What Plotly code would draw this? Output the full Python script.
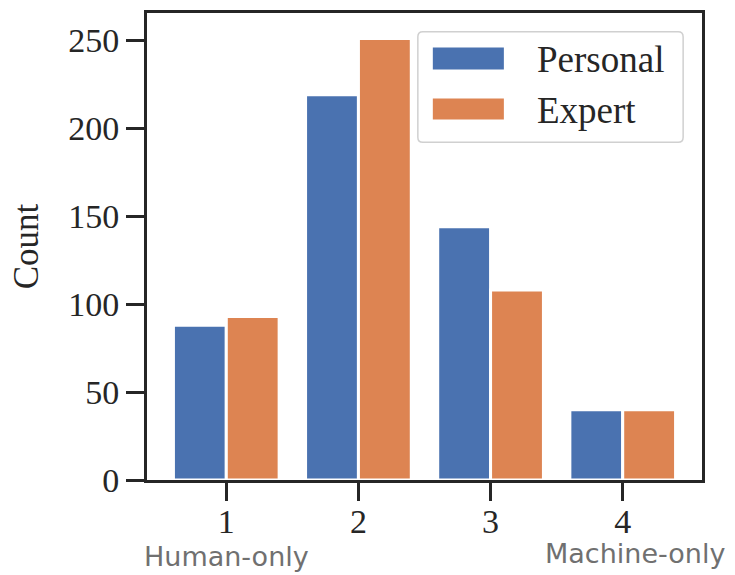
import plotly.graph_objects as go

categories = [1, 2, 3, 4]
tick_labels = ["1", "2", "3", "4"]
series_names = ["Personal", "Expert"]
personal = [88, 219, 144, 40]
expert = [93, 251, 108, 40]
colors = ["#4A72B0", "#DD8452"]
y_ticks = [0, 50, 100, 150, 200, 250]
end_labels = ["Human-only", "Machine-only"]

SERIF = "Liberation Serif, Times New Roman, serif"
SANS = "DejaVu Sans, sans-serif"
INK = "#262626"
GREY = "#707070"

fig = go.Figure()
for name, vals, col in zip(series_names, [personal, expert], colors):
    fig.add_trace(go.Bar(
        x=categories, y=vals, name=name,
        marker=dict(color=col, line=dict(color="white", width=3)),
        showlegend=False,
    ))

# custom legend (wide swatches, rounded frame)
def rrect(x0, y0, x1, y1, rx, ry):
    return (f"M{x0+rx},{y0} L{x1-rx},{y0} Q{x1},{y0} {x1},{y0+ry} "
            f"L{x1},{y1-ry} Q{x1},{y1} {x1-rx},{y1} L{x0+rx},{y1} "
            f"Q{x0},{y1} {x0},{y1-ry} L{x0},{y0+ry} Q{x0},{y0} {x0+rx},{y0} Z")

shapes = [dict(type="path", xref="paper", yref="paper",
               path=rrect(0.488, 0.723, 0.966, 0.960, 0.009, 0.011),
               line=dict(color="#D0D0D0", width=1.5), fillcolor="white")]
annotations = []
sw_y = [(0.879, 0.926), (0.772, 0.817)]
txt_y = [0.900, 0.791]
for name, col, (ya, yb), ty in zip(series_names, colors, sw_y, txt_y):
    shapes.append(dict(type="rect", xref="paper", yref="paper",
                       x0=0.515, x1=0.643, y0=ya, y1=yb,
                       fillcolor=col, line=dict(width=0)))
    annotations.append(dict(xref="paper", yref="paper", x=0.699, y=ty,
                            xanchor="left", yanchor="middle", text=name,
                            showarrow=False,
                            font=dict(family=SERIF, size=37, color=INK)))

annotations.append(dict(xref="x", yref="paper", x=categories[0], y=-0.2,
                        xanchor="center", yanchor="bottom", text=end_labels[0],
                        showarrow=False, borderpad=0,
                        font=dict(family=SANS, size=27, color=GREY)))
annotations.append(dict(xref="x", yref="paper", x=categories[-1] + 0.09, y=-0.192,
                        xanchor="center", yanchor="bottom", text=end_labels[1],
                        showarrow=False, borderpad=0,
                        font=dict(family=SANS, size=27, color=GREY)))

fig.update_layout(
    width=735, height=575,
    margin=dict(l=147, r=33, t=10, b=95),
    paper_bgcolor="white", plot_bgcolor="white",
    barmode="group", bargap=0.2, bargroupgap=0,
    shapes=shapes, annotations=annotations,
    font=dict(family=SERIF, size=34, color=INK),
)
fig.update_xaxes(
    range=[0.4, 4.6], tickvals=categories, ticktext=tick_labels,
    showgrid=False, zeroline=False,
    showline=True, mirror=True, linecolor=INK, linewidth=3,
    ticks="outside", ticklen=18, tickwidth=3, tickcolor=INK,
    tickfont=dict(family=SERIF, size=34, color=INK),
    ticklabelstandoff=-9,
)
fig.update_yaxes(
    range=[0, 265.5], tickvals=y_ticks,
    showgrid=False, zeroline=False,
    showline=True, mirror=True, linecolor=INK, linewidth=3,
    ticks="outside", ticklen=18, tickwidth=3, tickcolor=INK,
    tickfont=dict(family=SERIF, size=34, color=INK),
    title=dict(text="Count", font=dict(family=SERIF, size=35, color=INK), standoff=19),
)

fig.write_html("out.html", config={"displayModeBar": False},
               post_script="document.body.style.margin='0';document.body.style.overflow='hidden';")
